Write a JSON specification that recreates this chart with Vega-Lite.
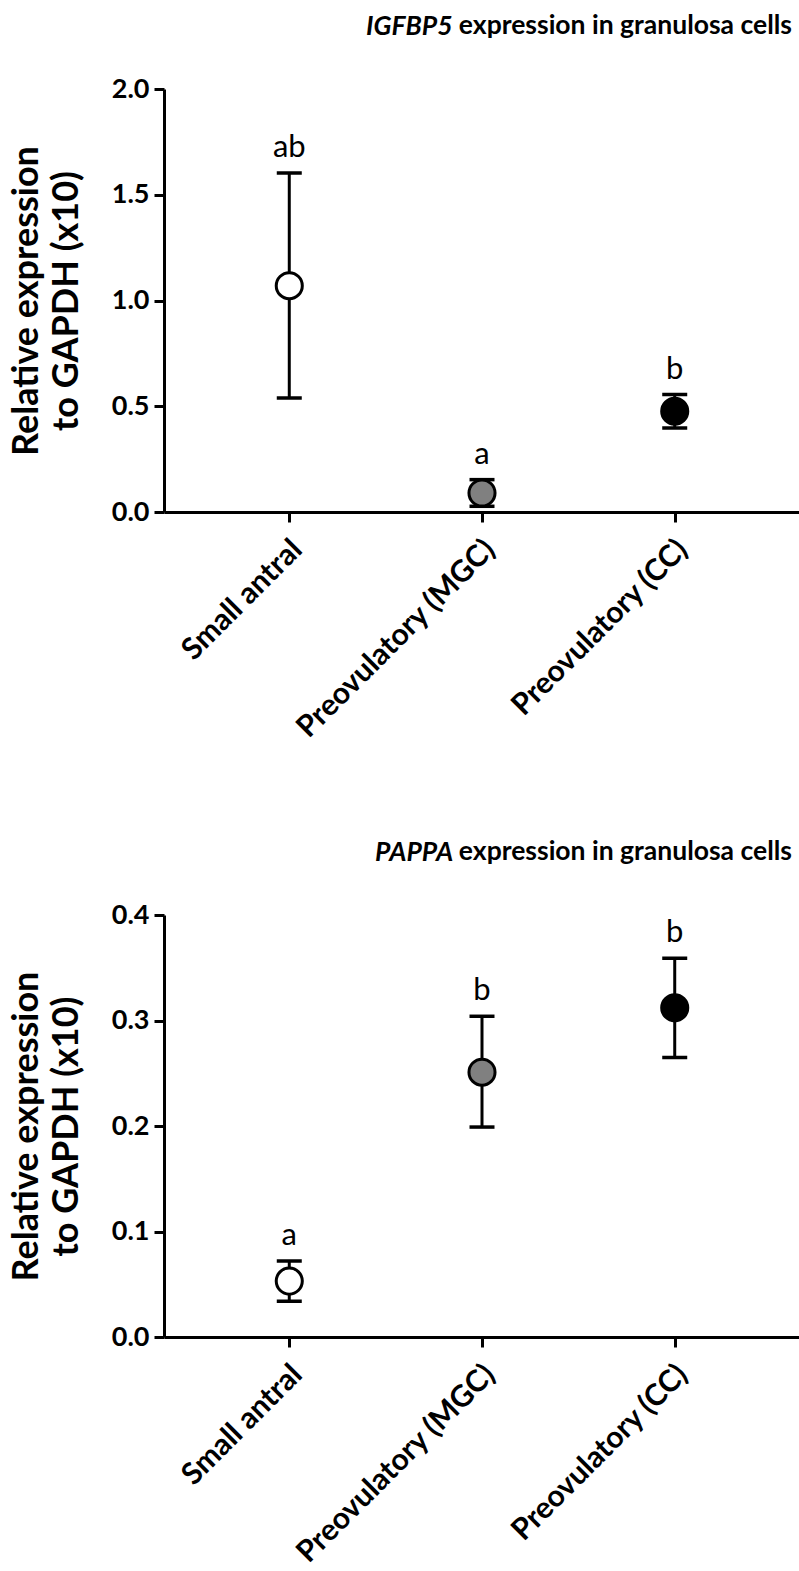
{
  "$schema": "https://vega.github.io/schema/vega-lite/v6.json",
  "background": "white",
  "padding": {"left": 8, "top": 12, "right": 0, "bottom": 5},
  "spacing": 94,
  "config": {
    "font": "Lato",
    "view": {"stroke": null},
    "axis": {
      "domainColor": "black", "domainWidth": 3, "tickColor": "black", "tickWidth": 3, "tickSize": 10,
      "labelColor": "black", "labelFont": "Lato", "labelFontWeight": "bold", "labelFontSize": 27,
      "titleColor": "black", "titleFont": "Lato", "titleFontWeight": "bold", "titleFontSize": 36, "grid": false
    },
    "title": {"font": "Lato", "fontSize": 26.5, "fontWeight": "bold", "color": "black"}
  },
  "datasets": {
    "igfbp5": [
      {"group": "Small antral", "mean": 1.07, "lo": 0.539, "hi": 1.603, "letter": "ab"},
      {"group": "Preovulatory (MGC)", "mean": 0.09, "lo": 0.027, "hi": 0.153, "letter": "a"},
      {"group": "Preovulatory (CC)", "mean": 0.476, "lo": 0.397, "hi": 0.555, "letter": "b"}
    ],
    "pappa": [
      {"group": "Small antral", "mean": 0.053, "lo": 0.034, "hi": 0.072, "letter": "a"},
      {"group": "Preovulatory (MGC)", "mean": 0.251, "lo": 0.199, "hi": 0.304, "letter": "b"},
      {"group": "Preovulatory (CC)", "mean": 0.312, "lo": 0.265, "hi": 0.359, "letter": "b"}
    ]
  },
  "vconcat": [
    {
      "title": {"text": "IGFBP5", "fontStyle": "italic", "anchor": "start", "frame": "group", "dx": 202, "dy": 32},
      "vconcat": [
        {
          "width": 636, "height": 423,
          "data": {"name": "igfbp5"},
          "title": {"text": "expression in granulosa cells", "anchor": "end", "frame": "group", "dx": -8, "offset": 36},
          "encoding": {
            "x": {"field": "group", "type": "nominal", "sort": ["Small antral", "Preovulatory (MGC)", "Preovulatory (CC)"],
                  "scale": {"type": "point", "padding": 0.65},
                  "axis": {"title": null, "labelAngle": -45, "labelPadding": 12, "labelOffset": -3, "labelFontSize": 30, "labelLimit": 0}}
          },
          "layer": [
            {"mark": {"type": "rule", "strokeWidth": 3, "color": "black", "opacity": 1},
             "encoding": {"y": {"field": "lo", "type": "quantitative", "scale": {"domain": [0, 2]},
                                "axis": {"values": [0, 0.5, 1, 1.5, 2], "format": ".1f", "labelPadding": 5, "title": ["Relative expression", "to GAPDH (x10)"], "titlePadding": 26, "titleLineHeight": 40}},
                          "y2": {"field": "hi"}}},
            {"mark": {"type": "tick", "orient": "horizontal", "size": 25, "thickness": 3.5, "color": "black", "opacity": 1},
             "encoding": {"y": {"field": "lo", "type": "quantitative"}}},
            {"mark": {"type": "tick", "orient": "horizontal", "size": 25, "thickness": 3.5, "color": "black", "opacity": 1},
             "encoding": {"y": {"field": "hi", "type": "quantitative"}}},
            {"mark": {"type": "point", "shape": "circle", "filled": true, "size": 680, "stroke": "black", "strokeWidth": 3, "opacity": 1},
             "encoding": {"y": {"field": "mean", "type": "quantitative"},
                          "fill": {"field": "group", "type": "nominal", "scale": {"domain": ["Small antral", "Preovulatory (MGC)", "Preovulatory (CC)"], "range": ["white", "#808080", "black"]}, "legend": null}}},
            {"mark": {"type": "text", "baseline": "alphabetic", "dy": -16, "fontSize": 31, "font": "Lato", "color": "black"},
             "encoding": {"y": {"field": "hi", "type": "quantitative"}, "text": {"field": "letter"}}}
          ]
        }
      ]
    },
    {
      "title": {"text": "PAPPA", "fontStyle": "italic", "anchor": "start", "frame": "group", "dx": 211, "dy": 32},
      "vconcat": [
        {
          "width": 636, "height": 422,
          "data": {"name": "pappa"},
          "title": {"text": "expression in granulosa cells", "anchor": "end", "frame": "group", "dx": -8, "offset": 36},
          "encoding": {
            "x": {"field": "group", "type": "nominal", "sort": ["Small antral", "Preovulatory (MGC)", "Preovulatory (CC)"],
                  "scale": {"type": "point", "padding": 0.65},
                  "axis": {"title": null, "labelAngle": -45, "labelPadding": 12, "labelOffset": -3, "labelFontSize": 30, "labelLimit": 0}}
          },
          "layer": [
            {"mark": {"type": "rule", "strokeWidth": 3, "color": "black", "opacity": 1},
             "encoding": {"y": {"field": "lo", "type": "quantitative", "scale": {"domain": [0, 0.4]},
                                "axis": {"values": [0, 0.1, 0.2, 0.3, 0.4], "format": ".1f", "labelPadding": 5, "title": ["Relative expression", "to GAPDH (x10)"], "titlePadding": 26, "titleLineHeight": 40}},
                          "y2": {"field": "hi"}}},
            {"mark": {"type": "tick", "orient": "horizontal", "size": 25, "thickness": 3.5, "color": "black", "opacity": 1},
             "encoding": {"y": {"field": "lo", "type": "quantitative"}}},
            {"mark": {"type": "tick", "orient": "horizontal", "size": 25, "thickness": 3.5, "color": "black", "opacity": 1},
             "encoding": {"y": {"field": "hi", "type": "quantitative"}}},
            {"mark": {"type": "point", "shape": "circle", "filled": true, "size": 680, "stroke": "black", "strokeWidth": 3, "opacity": 1},
             "encoding": {"y": {"field": "mean", "type": "quantitative"},
                          "fill": {"field": "group", "type": "nominal", "scale": {"domain": ["Small antral", "Preovulatory (MGC)", "Preovulatory (CC)"], "range": ["white", "#808080", "black"]}, "legend": null}}},
            {"mark": {"type": "text", "baseline": "alphabetic", "dy": -16, "fontSize": 31, "font": "Lato", "color": "black"},
             "encoding": {"y": {"field": "hi", "type": "quantitative"}, "text": {"field": "letter"}}}
          ]
        }
      ]
    }
  ]
}
